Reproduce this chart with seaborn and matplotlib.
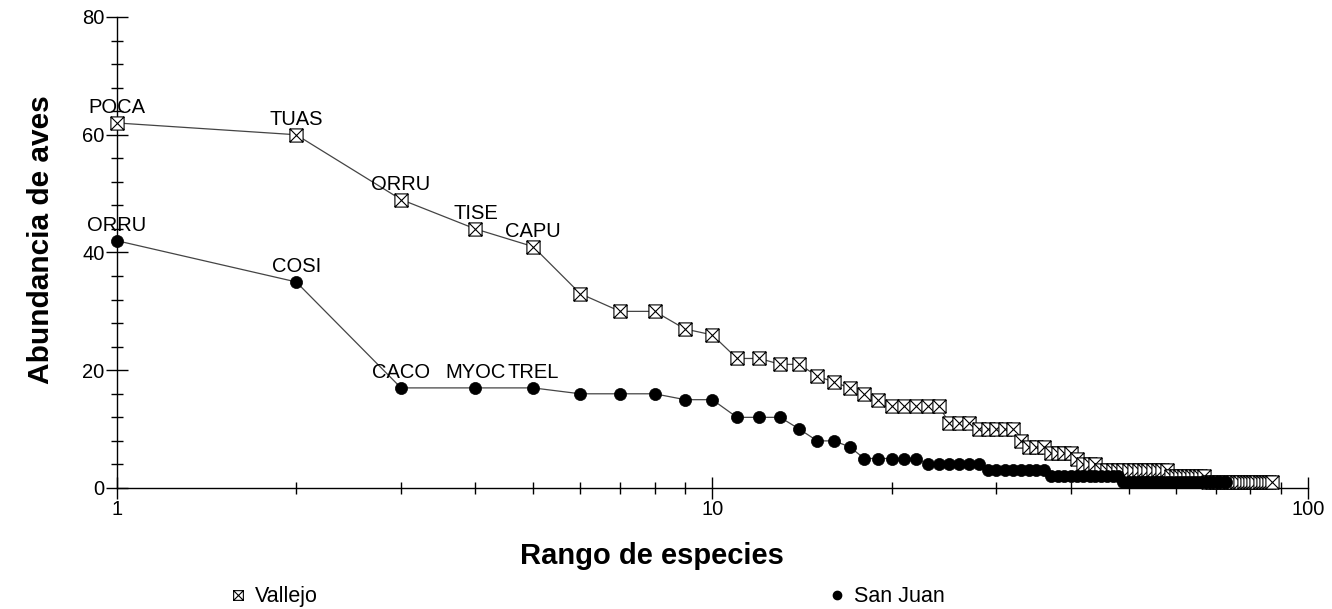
import numpy as np
import pandas as pd
import matplotlib
matplotlib.use('Agg')
import matplotlib.pyplot as plt
import seaborn as sns
from matplotlib.path import Path
from matplotlib.lines import Line2D
from matplotlib.ticker import FixedLocator, FixedFormatter, MultipleLocator, NullFormatter

# abundancia por rango
vallejo = [62, 60, 49, 44, 41, 33, 30, 30, 27, 26,
           22, 22, 21, 21, 19, 18, 17, 16, 15, 14,
           14, 14, 14, 14, 11, 11, 11, 10, 10, 10,
           10, 10, 8, 7, 7, 7, 6, 6, 6, 6,
           5, 4, 4, 4, 3, 3, 3, 3, 3, 3,
           3, 3, 3, 3, 3, 3, 3, 3, 2, 2,
           2, 2, 2, 2, 2, 2, 2, 1, 1, 1,
           1, 1, 1, 1, 1, 1, 1, 1, 1, 1,
           1, 1, 1, 1, 1, 1, 1]
san_juan = [42, 35, 17, 17, 17, 16, 16, 16, 15, 15,
            12, 12, 12, 10, 8, 8, 7, 5, 5, 5,
            5, 5, 4, 4, 4, 4, 4, 4, 3, 3,
            3, 3, 3, 3, 3, 3, 2, 2, 2, 2,
            2, 2, 2, 2, 2, 2, 2, 2, 1, 1,
            1, 1, 1, 1, 1, 1, 1, 1, 1, 1,
            1, 1, 1, 1, 1, 1, 1, 1, 1, 1,
            1, 1, 1]

vallejo_labels = ['POCA', 'TUAS', 'ORRU', 'TISE', 'CAPU']
san_juan_labels = ['ORRU', 'COSI', 'CACO', 'MYOC', 'TREL']

df_v = pd.DataFrame({'rango': np.arange(1, len(vallejo) + 1), 'abundancia': vallejo})
df_s = pd.DataFrame({'rango': np.arange(1, len(san_juan) + 1), 'abundancia': san_juan})

sns.set_style('ticks')
plt.rcParams['font.family'] = ['Liberation Sans', 'DejaVu Sans']
plt.rcParams['text.color'] = 'black'
plt.rcParams['axes.labelcolor'] = 'black'

# cuadrado con una X dentro
box_x = Path([(-1, -1), (1, -1), (1, 1), (-1, 1), (-1, -1),
              (-1, -1), (1, 1), (-1, 1), (1, -1)],
             [Path.MOVETO, Path.LINETO, Path.LINETO, Path.LINETO, Path.CLOSEPOLY,
              Path.MOVETO, Path.LINETO, Path.MOVETO, Path.LINETO])

fig = plt.figure(figsize=(13.32, 6.09), dpi=100)
ax = fig.add_axes([0.0878, 0.1987, 0.894, 0.7734])

for d in (df_v, df_s):
    sns.lineplot(data=d, x='rango', y='abundancia', ax=ax, color='#444444',
                 linewidth=0.9, clip_on=False)

sns.scatterplot(data=df_v, x='rango', y='abundancia', ax=ax, marker=box_x, s=90,
                facecolor='white', edgecolor='black', linewidth=0.8, clip_on=False, zorder=3)
sns.scatterplot(data=df_s, x='rango', y='abundancia', ax=ax, marker='o', s=76,
                color='black', edgecolor='black', linewidth=0.5, clip_on=False, zorder=3)

for i, lab in enumerate(vallejo_labels):
    ax.annotate(lab, (df_v['rango'][i], df_v['abundancia'][i]), xytext=(0, 10),
                textcoords='offset pixels', ha='center', va='baseline', fontsize=14.5)
for i, lab in enumerate(san_juan_labels):
    ax.annotate(lab, (df_s['rango'][i], df_s['abundancia'][i]), xytext=(0, 10),
                textcoords='offset pixels', ha='center', va='baseline', fontsize=14.5)

ax.set_xscale('log')
ax.set_xlim(1, 100)
ax.set_ylim(0, 80)
ax.xaxis.set_major_locator(FixedLocator([1, 10, 100]))
ax.xaxis.set_major_formatter(FixedFormatter(['1', '10', '100']))
ax.xaxis.set_minor_locator(FixedLocator([2, 3, 4, 5, 6, 7, 8, 9,
                                          20, 30, 40, 50, 60, 70, 80, 90]))
ax.xaxis.set_minor_formatter(NullFormatter())
ax.yaxis.set_major_locator(MultipleLocator(20))
ax.yaxis.set_minor_locator(MultipleLocator(4))

ax.tick_params(which='major', direction='inout', length=16, width=1, labelsize=14.5,
               pad=1, color='black', labelcolor='black')
ax.tick_params(which='minor', direction='inout', length=9, width=1, color='black')
sns.despine(ax=ax)
for sp in ('left', 'bottom'):
    ax.spines[sp].set_color('black')
    ax.spines[sp].set_linewidth(1)

ax.set_xlabel('Rango de especies', fontsize=21, fontweight='bold')
ax.set_ylabel('Abundancia de aves', fontsize=21.5, fontweight='bold')
ax.xaxis.label.set_va('center')
ax.xaxis.set_label_coords(0.449, -0.144)
ax.yaxis.label.set_va('center')
ax.yaxis.set_label_coords(-0.064, 0.527)

handles = [Line2D([], [], linestyle='none', marker=box_x, markersize=7,
                  markerfacecolor='white', markeredgecolor='black', markeredgewidth=0.8),
           Line2D([], [], linestyle='none', marker='o', markersize=6,
                  markerfacecolor='black', markeredgecolor='black')]
fig.legend(handles, ['Vallejo', 'San Juan'], loc='center left',
           bbox_to_anchor=(0.156, 0.02), ncol=2, frameon=False, fontsize=15.5,
           handlelength=1, handletextpad=0.3, columnspacing=23.6, borderpad=0.4)

fig.savefig('out.png', dpi=100)
